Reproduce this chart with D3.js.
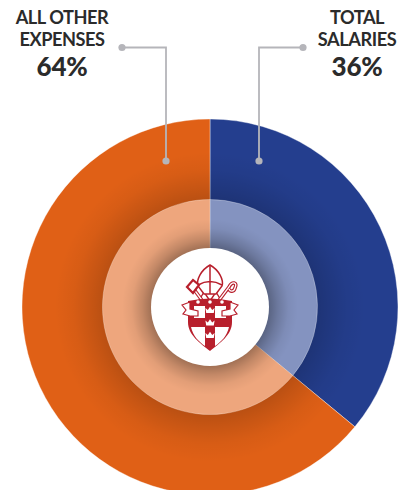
<!DOCTYPE html>
<html lang="en">
<head>
<meta charset="utf-8">
<title>Expenses</title>
<script src="https://d3js.org/d3.v7.min.js"></script>
<style>
html, body { margin: 0; padding: 0; background: #fff; overflow: hidden; }
svg { display: block; }
text { font-family: Lato, "Open Sans", sans-serif; fill: #2b2b2b; text-anchor: middle; }
</style>
</head>
<body>
<script>
var categories = ["TOTAL SALARIES", "ALL OTHER EXPENSES"];
var values = [36, 64];
var labelLines = [["TOTAL", "SALARIES"], ["ALL OTHER", "EXPENSES"]];
var colors = ["#243e8e", "#e06016"];

var width = 404, height = 490;
var cx = 210, cy = 307;
var outerR = 188, ringR = 107.5, holeR = 59;

var svg = d3.select("body").append("svg")
    .attr("width", width)
    .attr("height", height);

var defs = svg.append("defs");

// soft shadow around the pale ring (circles sit in the translated group, so centre is 0,0)
var outerShade = defs.append("radialGradient")
    .attr("id", "outerShade")
    .attr("gradientUnits", "userSpaceOnUse")
    .attr("cx", 0).attr("cy", 0).attr("r", 155);
outerShade.selectAll("stop")
    .data([[0.68, 0.18], [0.76, 0.12], [0.88, 0.04], [1, 0]])
  .enter().append("stop")
    .attr("offset", function(d) { return d[0]; })
    .attr("stop-color", "#000")
    .attr("stop-opacity", function(d) { return d[1]; });

// and the one around the white hole
var innerShade = defs.append("radialGradient")
    .attr("id", "innerShade")
    .attr("gradientUnits", "userSpaceOnUse")
    .attr("cx", 0).attr("cy", 0).attr("r", 88);
innerShade.selectAll("stop")
    .data([[0.67, 0.32], [0.77, 0.18], [0.89, 0.05], [1, 0]])
  .enter().append("stop")
    .attr("offset", function(d) { return d[0]; })
    .attr("stop-color", "#000")
    .attr("stop-opacity", function(d) { return d[1]; });

var pie = d3.pie().sort(null);
var arcs = pie(values);

var outerArc = d3.arc().innerRadius(0).outerRadius(outerR);
var ringArc = d3.arc().innerRadius(0).outerRadius(ringR);

var chart = svg.append("g").attr("transform", "translate(" + cx + "," + cy + ")");

chart.selectAll("path.slice")
    .data(arcs)
  .enter().append("path")
    .attr("class", "slice")
    .attr("d", outerArc)
    .attr("fill", function(d, i) { return colors[i]; })
    .attr("stroke", "#fff")
    .attr("stroke-opacity", 0.55)
    .attr("stroke-width", 0.7);

chart.append("circle").attr("r", 155).attr("fill", "url(#outerShade)");

// ring is opaque so the outer shadow does not dull it
chart.selectAll("path.ring")
    .data(arcs)
  .enter().append("path")
    .attr("class", "ring")
    .attr("d", ringArc)
    .attr("fill", function(d, i) { return d3.interpolateRgb(colors[i], "#fff")(0.44); })
    .attr("stroke", "#fff")
    .attr("stroke-opacity", 0.4)
    .attr("stroke-width", 0.7);

chart.append("circle").attr("r", 88).attr("fill", "url(#innerShade)");
chart.append("circle").attr("r", holeR).attr("fill", "#fff");

// leader lines: end at the label dot, drop into the slice
var leaders = [
  { x1: 303, x2: 259 },
  { x1: 122, x2: 166 }
];
var leaderTop = 47.5, leaderBottom = 161;
var leader = svg.selectAll("g.leader")
    .data(leaders)
  .enter().append("g")
    .attr("class", "leader");
leader.append("path")
    .attr("fill", "none")
    .attr("stroke", "#b5b5ba")
    .attr("stroke-width", 1.8)
    .attr("d", function(d) {
      return "M" + d.x1 + "," + leaderTop + "H" + d.x2 + "V" + leaderBottom;
    });
leader.append("circle").attr("cx", function(d) { return d.x1; }).attr("cy", leaderTop).attr("r", 3.6).attr("fill", "#b5b5ba");
leader.append("circle").attr("cx", function(d) { return d.x2; }).attr("cy", leaderBottom).attr("r", 3.6).attr("fill", "#b5b5ba");

// labels
var labelX = [357, 62];
labelLines.forEach(function(lines, i) {
  lines.forEach(function(line, j) {
    svg.append("text")
      .attr("x", labelX[i])
      .attr("y", 23.5 + j * 22.7)
      .attr("font-size", 18.2)
      .attr("font-weight", 700)
      .attr("letter-spacing", -0.45)
      .text(line);
  });
  svg.append("text")
    .attr("x", labelX[i])
    .attr("y", 76)
    .attr("font-size", 26)
    .attr("font-weight", 900)
    .attr("letter-spacing", -0.3)
    .text(values[i] + "%");
});

// diocese crest in the middle
var red = "#b81f2c";
var crest = svg.append("g").attr("transform", "translate(" + cx + ",0)");

// fanons under the mitre
crest.append("path")
    .attr("d", "M-6,292L-12,302M6,292L12,302M-6,292L0,301L6,292")
    .attr("fill", "none").attr("stroke", red).attr("stroke-width", 1.4);

// mitre
crest.append("path")
    .attr("d", "M0,265C-9,270 -14,280 -12,286L-6,294L6,294L12,286C14,280 9,270 0,265Z")
    .attr("fill", "#fff").attr("stroke", red).attr("stroke-width", 1.5);
crest.append("path")
    .attr("d", "M0,265V294M-12,285Q0,278 12,285")
    .attr("fill", "none").attr("stroke", red).attr("stroke-width", 1.5);

// key
crest.append("path")
    .attr("d", "M-6,303L-17,288")
    .attr("stroke", red).attr("stroke-width", 3.6);
crest.append("path")
    .attr("d", "M-6,303L-17,288")
    .attr("stroke", "#fff").attr("stroke-width", 1.3);
crest.append("path")
    .attr("d", "M-23,287L-17,280L-11,285L-17,293Z")
    .attr("fill", "#fff").attr("stroke", red).attr("stroke-width", 2.2);

// crozier
var crozierPath = "M7,303L19,287C22,281 28,282 25,288C24,292 20,292 19,289";
crest.append("path")
    .attr("d", crozierPath)
    .attr("fill", "none").attr("stroke", red).attr("stroke-width", 3.6);
crest.append("path")
    .attr("d", crozierPath)
    .attr("fill", "none").attr("stroke", "#fff").attr("stroke-width", 1.3);

// shield
crest.append("path")
    .attr("d", "M-22,301Q0,296 22,301V322C22,335 10,343 0,351C-10,343 -22,335 -22,322Z")
    .attr("fill", red);

// white quarters of the shield
crest.append("path").attr("d", "M-16,306H-5V318H-16Z").attr("fill", "#fff");
crest.append("path").attr("d", "M5,306H16V318H5Z").attr("fill", "#fff");
crest.append("path").attr("d", "M-19,327H-5V346C-11,342 -17,336 -19,327Z").attr("fill", "#fff");
crest.append("path").attr("d", "M5,327H19C17,336 11,342 5,346Z").attr("fill", "#fff");

// ribbon tails either side of the chief
crest.append("path")
    .attr("d", "M-28,305L-20,302L-20,309L-12,311L-12,316L-20,316L-27,314L-24,310Z")
    .attr("fill", "#fff").attr("stroke", red).attr("stroke-width", 1.2);
crest.append("path")
    .attr("d", "M28,305L20,302L20,309L12,311L12,316L20,316L27,314L24,310Z")
    .attr("fill", "#fff").attr("stroke", red).attr("stroke-width", 1.2);

// dots along the chief
crest.selectAll("circle.dot")
    .data([-12, 0, 12])
  .enter().append("circle")
    .attr("class", "dot")
    .attr("cx", function(d) { return d; })
    .attr("cy", 302)
    .attr("r", 1.8)
    .attr("fill", "#fff");

// three crowns down the middle
crest.selectAll("path.crown")
    .data([308, 320.5, 333])
  .enter().append("path")
    .attr("class", "crown")
    .attr("transform", function(d) { return "translate(0," + d + ")"; })
    .attr("d", "M-3.8,5L-4.6,0L-2.2,2L0,-1.2L2.2,2L4.6,0L3.8,5Z")
    .attr("fill", "#fff");
</script>
</body>
</html>
